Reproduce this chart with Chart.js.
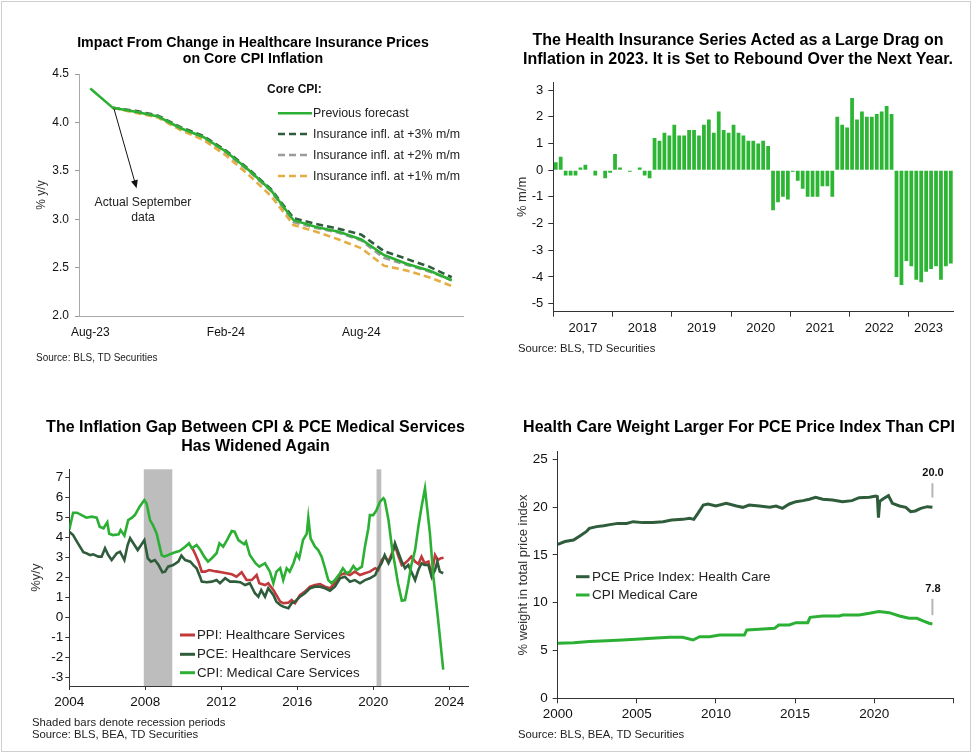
<!DOCTYPE html>
<html>
<head>
<meta charset="utf-8">
<script src="https://cdn.jsdelivr.net/npm/chart.js@4.4.0/dist/chart.umd.min.js"></script>
<style>
  body { margin: 0; background: #fff; font-family: "Liberation Sans", Arial, sans-serif; }
  #wrap { position: relative; width: 980px; height: 754px; overflow: hidden; background: #fff; }
  #frame { position: absolute; left: 1px; top: 1px; width: 968px; height: 749px; border: 1px solid #cfcfcf; }
  canvas { position: absolute; }
  .t { position: absolute; font-weight: bold; color: #000; text-align: center; white-space: nowrap; transform: translateX(-50%); }
  .src { position: absolute; color: #222; white-space: nowrap; }
  .lg { position: absolute; color: #222; white-space: nowrap; }
  svg { position: absolute; left: 0; top: 0; pointer-events: none; }
</style>
</head>
<body>
<div id="wrap">
  <div id="frame"></div>

  <canvas id="c1" width="490" height="377" style="left:0;top:0"></canvas>
  <canvas id="c2" width="490" height="377" style="left:490px;top:0"></canvas>
  <canvas id="c3" width="490" height="377" style="left:0;top:377px"></canvas>
  <canvas id="c4" width="490" height="377" style="left:490px;top:377px"></canvas>

  <div class="t" style="left:253px;top:33.5px;font-size:14.2px;line-height:16.3px">Impact From Change in Healthcare Insurance Prices<br>on Core CPI Inflation</div>
  <div class="t" style="left:738px;top:31.4px;font-size:16px;line-height:18.6px">The Health Insurance Series Acted as a Large Drag on<br>Inflation in 2023. It is Set to Rebound Over the Next Year.</div>
  <div class="t" style="left:255.5px;top:418px;font-size:16px;line-height:18.7px">The Inflation Gap Between CPI &amp; PCE Medical Services<br>Has Widened Again</div>
  <div class="t" style="left:739px;top:418px;font-size:16px;line-height:18.7px">Health Care Weight Larger For PCE Price Index Than CPI</div>

  <div class="src" style="left:36px;top:352px;font-size:10px">Source: BLS, TD Securities</div>
  <div class="src" style="left:518px;top:342px;font-size:11.3px">Source: BLS, TD Securities</div>
  <div class="src" style="left:32px;top:716px;font-size:11.3px;line-height:12.3px">Shaded bars denote recession periods<br>Source: BLS, BEA, TD Securities</div>
  <div class="src" style="left:518px;top:728px;font-size:11.3px">Source: BLS, BEA, TD Securities</div>

  <div class="lg" style="left:267px;top:82px;font-size:12px;font-weight:bold;color:#111">Core CPI:</div>
  <div class="lg" style="left:313px;top:106px;font-size:12.4px;line-height:14px">Previous forecast</div>
  <div class="lg" style="left:313px;top:127px;font-size:12.4px;line-height:14px">Insurance infl. at +3% m/m</div>
  <div class="lg" style="left:313px;top:148px;font-size:12.4px;line-height:14px">Insurance infl. at +2% m/m</div>
  <div class="lg" style="left:313px;top:169px;font-size:12.4px;line-height:14px">Insurance infl. at +1% m/m</div>
  <div class="lg" style="left:94px;top:195px;font-size:12.2px;line-height:15px;text-align:center;width:98px">Actual September<br>data</div>

  <div class="lg" style="left:197px;top:627px;font-size:13.3px;line-height:16px">PPI: Healthcare Services</div>
  <div class="lg" style="left:197px;top:646px;font-size:13.3px;line-height:16px">PCE: Healthcare Services</div>
  <div class="lg" style="left:197px;top:665px;font-size:13.3px;line-height:16px">CPI: Medical Care Services</div>

  <div class="lg" style="left:592px;top:569px;font-size:13.5px;line-height:16px">PCE Price Index: Health Care</div>
  <div class="lg" style="left:592px;top:587px;font-size:13.5px;line-height:16px">CPI Medical Care</div>

  <div class="lg" style="left:933px;top:466px;font-size:11px;font-weight:bold;color:#111;transform:translateX(-50%)">20.0</div>
  <div class="lg" style="left:933px;top:582px;font-size:11px;font-weight:bold;color:#111;transform:translateX(-50%)">7.8</div>

  <svg width="980" height="754">
    <line x1="278" y1="113.3" x2="312" y2="113.3" stroke="#2cb034" stroke-width="2.6"/>
    <line x1="278" y1="134" x2="310" y2="134" stroke="#2f5d3c" stroke-width="2.6" stroke-dasharray="7 4"/>
    <line x1="278" y1="155" x2="310" y2="155" stroke="#9b9b9b" stroke-width="2.6" stroke-dasharray="7 4"/>
    <line x1="278" y1="176" x2="310" y2="176" stroke="#e5ae45" stroke-width="2.6" stroke-dasharray="7 4"/>
    <line x1="180" y1="635" x2="195" y2="635" stroke="#c0393b" stroke-width="3"/>
    <line x1="180" y1="654.3" x2="195" y2="654.3" stroke="#2f5d3c" stroke-width="3"/>
    <line x1="180" y1="672.7" x2="195" y2="672.7" stroke="#2cb034" stroke-width="3"/>
    <line x1="576" y1="576.7" x2="589.5" y2="576.7" stroke="#2f5d3c" stroke-width="3"/>
    <line x1="576" y1="595" x2="589.5" y2="595" stroke="#2cb034" stroke-width="3"/>
  </svg>
</div>

<script>
// ---------- top left: core CPI forecast paths (% y/y)
const fcMonths = ['Aug-23', 'Sep-23', 'Oct-23', 'Nov-23', 'Dec-23', 'Jan-24', 'Feb-24', 'Mar-24', 'Apr-24',
  'May-24', 'Jun-24', 'Jul-24', 'Aug-24', 'Sep-24', 'Oct-24', 'Nov-24', 'Dec-24'];
const prevForecast = [4.35, 4.15, 4.11, 4.06, 3.94, 3.85, 3.70, 3.51, 3.30, 2.99, 2.92, 2.87, 2.79, 2.63, 2.54, 2.47, 2.37];
const insPlus3 = [null, 4.15, 4.12, 4.07, 3.95, 3.86, 3.71, 3.52, 3.31, 3.01, 2.95, 2.90, 2.84, 2.67, 2.59, 2.51, 2.40];
const insPlus2 = [null, 4.15, 4.11, 4.06, 3.94, 3.84, 3.69, 3.50, 3.29, 2.97, 2.91, 2.86, 2.78, 2.60, 2.53, 2.46, 2.37];
const insPlus1 = [null, 4.15, 4.10, 4.05, 3.92, 3.82, 3.66, 3.46, 3.24, 2.94, 2.87, 2.79, 2.70, 2.52, 2.47, 2.40, 2.31];
const fcTicks = [2.0, 2.5, 3.0, 3.5, 4.0, 4.5];
const arrowFrom = [1.05, 4.14];
const arrowTo = [2.05, 3.32];

// ---------- top right: health insurance CPI (% m/m), monthly
const insYears = ['2017', '2018', '2019', '2020', '2021', '2022', '2023'];
const ins2017 = [0.3, 0.5, -0.2, -0.2, -0.2, 0.1, 0.2, 0, -0.2, 0, -0.3, -0.1];
const ins2018 = [0.6, 0.1, 0, -0.06, 0, 0.1, -0.2, -0.3, 1.2, 1.1, 1.4, 1.3];
const ins2019 = [1.7, 1.3, 1.3, 1.5, 1.5, 1.3, 1.7, 1.9, 1.4, 2.2, 1.5, 1.4];
const ins2020 = [1.7, 1.4, 1.3, 1.1, 1.1, 1.0, 1.1, 0.9, -1.5, -1.2, -1.0, -1.1];
const ins2021 = [-0.06, -0.4, -0.7, -1.0, -1.0, -1.0, -0.6, -0.6, -1.0, 2.0, 1.7, 1.6];
const ins2022 = [2.7, 1.9, 2.2, 2.0, 2.0, 2.1, 2.2, 2.4, 2.1, -4.0, -4.3, -3.4];
const ins2023 = [-3.6, -4.1, -4.2, -3.8, -3.7, -3.6, -4.1, -3.6, -3.5];
const insTicks = [-5, -4, -3, -2, -1, 0, 1, 2, 3];

// ---------- bottom left: medical services inflation (% y/y)
const recessions = [[2007.92, 2009.42], [2020.17, 2020.42]];
const gapTicksX = [2004, 2008, 2012, 2016, 2020, 2024];
const gapTicksY = [-3, -2, -1, 0, 1, 2, 3, 4, 5, 6, 7];

const cpiMedDates = [2004.0, 2004.2, 2004.4, 2004.65, 2004.9, 2005.18, 2005.44, 2005.6, 2005.8, 2006.0, 2006.1, 2006.3,
  2006.6, 2006.7, 2006.9, 2007.1, 2007.3, 2007.45, 2007.7, 2007.95, 2008.07, 2008.25, 2008.4, 2008.6, 2008.86, 2009.0,
  2009.3, 2009.57, 2009.8, 2010.1, 2010.3, 2010.45, 2010.7, 2010.9, 2011.1, 2011.3, 2011.5, 2011.75, 2011.9, 2012.1,
  2012.3, 2012.55, 2012.7, 2012.9, 2013.2, 2013.3, 2013.5, 2013.8, 2014.0, 2014.3, 2014.56, 2014.74, 2014.9, 2015.1,
  2015.26, 2015.44, 2015.6, 2015.8, 2015.96, 2016.1, 2016.3, 2016.5, 2016.58, 2016.7, 2016.93, 2017.1, 2017.28, 2017.46,
  2017.63, 2017.8, 2017.98, 2018.25, 2018.4, 2018.6, 2018.77, 2018.95, 2019.12, 2019.4, 2019.56, 2019.74, 2019.82,
  2020.0, 2020.17, 2020.35, 2020.53, 2020.6, 2020.8, 2021.0, 2021.14, 2021.3, 2021.5, 2021.67, 2021.84, 2022.0, 2022.2,
  2022.37, 2022.54, 2022.72, 2022.98, 2023.16, 2023.4, 2023.68];
const cpiMedVals = [4.4, 5.25, 5.25, 5.13, 5.0, 5.05, 5.0, 4.55, 4.47, 4.77, 4.2, 4.13,
  4.17, 4.38, 4.1, 4.88, 5.0, 5.13, 5.55, 5.88, 5.7, 4.88, 4.63, 4.2, 3.13, 3.05,
  3.17, 3.27, 3.33, 3.55, 3.72, 3.47, 3.63, 3.38, 3.05, 2.8, 2.97, 3.22, 3.72, 3.55,
  3.88, 4.33, 4.3, 3.88, 3.67, 3.8, 3.13, 2.72, 2.55, 2.72, 2.3, 1.72, 2.3, 2.47,
  1.88, 2.47, 2.3, 2.72, 3.2, 2.97, 3.88, 4.2, 5.0, 3.97, 3.55, 3.38, 3.05, 2.47,
  1.88, 1.72, 1.88, 2.22, 2.47, 2.22, 2.3, 2.58, 2.38, 2.55, 3.55, 4.47, 5.13,
  5.13, 5.38, 5.8, 5.97, 5.88, 4.88, 3.38, 2.63, 1.72, 0.85, 0.88, 1.72, 2.63, 3.38,
  4.55, 5.55, 6.47, 4.22, 2.05, 0.0, -2.6];

const pceMedDates = [2004.0, 2004.2, 2004.4, 2004.56, 2004.74, 2004.9, 2005.1, 2005.26, 2005.53, 2005.7, 2005.88, 2006.05,
  2006.23, 2006.5, 2006.67, 2006.9, 2007.07, 2007.2, 2007.37, 2007.6, 2007.78, 2007.95, 2008.13, 2008.3, 2008.5, 2008.7,
  2008.9, 2009.04, 2009.2, 2009.47, 2009.74, 2009.9, 2010.1, 2010.37, 2010.53, 2010.7, 2010.88, 2010.97, 2011.23, 2011.5,
  2011.75, 2011.93, 2012.2, 2012.46, 2012.72, 2013.0, 2013.25, 2013.5, 2013.77, 2013.95, 2014.1, 2014.3, 2014.47, 2014.74,
  2014.9, 2015.1, 2015.26, 2015.53, 2015.7, 2015.88, 2016.14, 2016.4, 2016.67, 2016.93, 2017.2, 2017.46, 2017.72, 2017.98,
  2018.25, 2018.5, 2018.77, 2019.03, 2019.3, 2019.56, 2019.82, 2020.1, 2020.26, 2020.44, 2020.6, 2020.8, 2020.97, 2021.14,
  2021.3, 2021.5, 2021.67, 2021.84, 2022.0, 2022.2, 2022.37, 2022.54, 2022.7, 2022.9, 2023.07, 2023.25, 2023.37, 2023.5,
  2023.68];
const pceMedVals = [4.3, 4.13, 3.8, 3.55, 3.27, 3.22, 3.13, 3.17, 3.05, 3.05, 3.47, 3.13,
  2.88, 3.22, 3.3, 2.88, 3.63, 3.97, 3.72, 3.38, 3.63, 3.88, 2.97, 2.8, 2.88, 2.63,
  2.27, 2.3, 2.55, 2.63, 2.8, 3.1, 2.88, 2.8, 2.63, 2.47, 2.05, 1.8, 1.77, 1.8,
  1.88, 1.72, 1.97, 1.8, 1.8, 1.77, 1.63, 1.72, 1.22, 1.05, 1.38, 1.05, 1.47, 1.13,
  0.8, 0.63, 0.55, 0.47, 0.72, 0.8, 1.05, 1.22, 1.47, 1.55, 1.55, 1.47, 1.35, 1.55,
  1.97, 2.05, 1.8, 1.88, 1.72, 1.88, 1.97, 2.13, 2.47, 2.72, 3.13, 2.72, 3.05, 3.72,
  3.3, 2.8, 2.47, 2.63, 2.3, 1.88, 2.38, 2.72, 2.63, 2.63, 2.05, 2.38, 2.8, 2.3,
  2.22];

const ppiMedDates = [2010.48, 2010.65, 2010.8, 2010.97, 2011.15, 2011.36, 2011.6, 2011.8, 2012.0, 2012.28, 2012.55, 2012.8,
  2013.07, 2013.33, 2013.6, 2013.86, 2014.0, 2014.3, 2014.47, 2014.74, 2014.9, 2015.1, 2015.26, 2015.53, 2015.7, 2015.88,
  2016.14, 2016.4, 2016.67, 2016.93, 2017.2, 2017.46, 2017.72, 2017.98, 2018.25, 2018.5, 2018.77, 2019.03, 2019.3, 2019.56,
  2019.82, 2020.1, 2020.26, 2020.44, 2020.6, 2020.8, 2020.97, 2021.14, 2021.3, 2021.5, 2021.67, 2021.84, 2022.0, 2022.2,
  2022.37, 2022.54, 2022.7, 2022.9, 2023.07, 2023.25, 2023.4, 2023.55, 2023.7];
const ppiMedVals = [3.47, 3.13, 2.8, 2.3, 2.3, 2.38, 2.33, 2.3, 2.27, 2.22, 2.17, 2.05,
  2.27, 1.88, 1.88, 2.13, 1.72, 1.63, 1.72, 1.38, 1.13, 0.8, 0.72, 0.75, 0.88, 0.72,
  1.13, 1.3, 1.55, 1.63, 1.68, 1.55, 1.47, 1.72, 2.13, 2.22, 2.13, 2.3, 2.13, 2.22,
  2.3, 2.47, 2.38, 2.88, 3.05, 2.8, 3.2, 3.63, 3.13, 2.63, 2.72, 2.88, 3.05, 2.8,
  2.68, 3.05, 2.72, 2.8, 2.13, 3.13, 2.88, 2.97, 3.0];

// ---------- bottom right: health care weight in price index (%)
const weightTicksX = [2000, 2005, 2010, 2015, 2020, 2025];
const weightTicksY = [0, 5, 10, 15, 20, 25];
const pceWDates = [2000.0, 2000.46, 2001.0, 2001.4, 2001.8, 2002.0, 2002.46, 2002.9, 2003.3, 2003.8, 2004.35, 2004.77,
  2005.4, 2006.0, 2006.66, 2007.2, 2007.9, 2008.34, 2008.6, 2008.86, 2009.2, 2009.5, 2010.0, 2010.65, 2011.3, 2011.7,
  2012.1, 2012.75, 2013.4, 2013.8, 2014.2, 2014.64, 2015.06, 2015.5, 2015.9, 2016.3, 2016.75, 2017.37, 2018.0, 2018.6,
  2019.05, 2019.7, 2020.1, 2020.2, 2020.27, 2020.35, 2020.6, 2020.9, 2021.15, 2021.6, 2022.0, 2022.3, 2022.6, 2022.94,
  2023.36, 2023.68];
const pceWVals = [16.1, 16.4, 16.56, 16.98, 17.43, 17.78, 17.96, 18.06, 18.17, 18.3, 18.3, 18.48,
  18.38, 18.4, 18.48, 18.65, 18.72, 18.83, 18.72, 19.35, 20.22, 20.33, 20.12, 20.4, 20.12, 19.98,
  20.22, 20.12, 19.98, 20.12, 19.87, 20.33, 20.57, 20.68, 20.82, 21.03, 20.82, 20.75, 20.57, 20.68,
  20.99, 21.03, 21.16, 21.1, 18.9, 20.6, 20.9, 21.2, 20.4, 20.12, 19.98, 19.53, 19.6, 19.87,
  20.05, 19.98];
const cpiWDates = [2000.0, 2001.0, 2002.0, 2003.1, 2004.1, 2005.2, 2006.2, 2007.1, 2007.9, 2008.55, 2008.97, 2009.6,
  2010.23, 2011.07, 2011.8, 2011.95, 2012.75, 2013.7, 2013.97, 2014.64, 2015.06, 2015.8, 2015.95, 2016.75, 2017.8,
  2018.0, 2019.05, 2019.7, 2020.3, 2020.95, 2021.6, 2022.2, 2022.7, 2023.05, 2023.47, 2023.68];
const cpiWVals = [5.75, 5.82, 5.93, 6.03, 6.1, 6.2, 6.31, 6.38, 6.38, 6.1, 6.45, 6.45,
  6.62, 6.62, 6.62, 7.15, 7.22, 7.32, 7.67, 7.67, 7.91, 7.91, 8.47, 8.61, 8.61,
  8.72, 8.72, 8.89, 9.07, 8.96, 8.61, 8.37, 8.37, 8.12, 7.85, 7.78];
// little grey markers under the end-value labels
const endMarks = [[2023.68, 21.0, 22.5], [2023.68, 8.7, 10.4]];

// ---------- shared look
const GREEN = '#2cb034';
const DARK = '#2f5d3c';
const RED = '#c0393b';
const AXIS = '#333';
Chart.defaults.font.family = '"Liberation Sans", Arial, sans-serif';
Chart.defaults.color = '#111';
Chart.defaults.animation = false;

const pts = (xs, ys) => xs.map((x, i) => ({ x, y: ys[i] }));
const fixW = w => s => { s.width = w; };
const fixH = h => s => { s.height = h; };
const setTicks = list => s => { s.ticks = list.map(value => ({ value })); };

function yAxisTitle(text, size) {
  return { display: true, text, color: '#333', font: { size } };
}

const noLegend = { legend: { display: false }, tooltip: { enabled: false } };

// ---------- chart 1
const arrowPlugin = {
  id: 'arrow',
  afterDatasetsDraw(chart) {
    const { ctx, scales: { x, y } } = chart;
    const x0 = x.getPixelForValue(arrowFrom[0]), y0 = y.getPixelForValue(arrowFrom[1]);
    const x1 = x.getPixelForValue(arrowTo[0]), y1 = y.getPixelForValue(arrowTo[1]);
    const a = Math.atan2(y1 - y0, x1 - x0);
    ctx.save();
    ctx.strokeStyle = '#111';
    ctx.fillStyle = '#111';
    ctx.lineWidth = 1;
    ctx.beginPath();
    ctx.moveTo(x0, y0);
    ctx.lineTo(x1 - 6 * Math.cos(a), y1 - 6 * Math.sin(a));
    ctx.stroke();
    ctx.beginPath();
    ctx.moveTo(x1, y1);
    ctx.lineTo(x1 - 8 * Math.cos(a) + 3.5 * Math.sin(a), y1 - 8 * Math.sin(a) - 3.5 * Math.cos(a));
    ctx.lineTo(x1 - 8 * Math.cos(a) - 3.5 * Math.sin(a), y1 - 8 * Math.sin(a) + 3.5 * Math.cos(a));
    ctx.closePath();
    ctx.fill();
    ctx.restore();
  }
};

new Chart(document.getElementById('c1'), {
  type: 'line',
  data: {
    labels: fcMonths,
    datasets: [
      { data: prevForecast, borderColor: GREEN, borderWidth: 2.6 },
      { data: insPlus1, borderColor: '#e5ae45', borderWidth: 2.6, borderDash: [7, 4] },
      { data: insPlus2, borderColor: '#9b9b9b', borderWidth: 2.6, borderDash: [7, 4] },
      { data: insPlus3, borderColor: DARK, borderWidth: 2.6, borderDash: [7, 4] },
    ],
  },
  options: {
    responsive: false,
    layout: { padding: { left: 30.5, right: 27, top: 74, bottom: 31 } },
    elements: { point: { radius: 0 }, line: { tension: 0 } },
    plugins: noLegend,
    scales: {
      x: {
        offset: true,
        afterFit: fixH(30),
        grid: { display: false, drawTicks: false },
        border: { display: true, color: '#aaa' },
        ticks: {
          autoSkip: false, maxRotation: 0, padding: 9, font: { size: 12 },
          callback: (v, i) => (i % 6 === 0 ? fcMonths[i] : ''),
        },
      },
      y: {
        min: 2, max: 4.5,
        afterFit: fixW(48.5),
        afterBuildTicks: setTicks(fcTicks),
        grid: { drawOnChartArea: false, tickLength: 4, color: '#999' },
        border: { display: true, color: '#aaa' },
        ticks: { padding: 6, font: { size: 12 }, callback: v => v.toFixed(1) },
        title: yAxisTitle('% y/y', 12),
      },
    },
  },
  plugins: [arrowPlugin],
});

// ---------- chart 2
const insByYear = [ins2017, ins2018, ins2019, ins2020, ins2021, ins2022, ins2023];
const insLabels = insYears.flatMap((yr, k) => insByYear[k].map((_, m) => yr + '-' + (m + 1)));
const insMoM = [].concat(...insByYear);

new Chart(document.getElementById('c2'), {
  type: 'bar',
  data: {
    labels: insLabels,
    datasets: [{ data: insMoM, backgroundColor: '#2cb634', barPercentage: 0.76, categoryPercentage: 1 }],
  },
  options: {
    responsive: false,
    layout: { padding: { left: 20.2, right: 26.7, top: 82, bottom: 35.3 } },
    plugins: noLegend,
    scales: {
      x: {
        afterFit: fixH(30),
        grid: {
          drawOnChartArea: false, tickLength: 5,
          color: c => (c.index % 12 === 0 && c.index < insMoM.length ? AXIS : 'rgba(0,0,0,0)'),
        },
        border: { display: true, color: AXIS },
        ticks: {
          autoSkip: false, maxRotation: 0, padding: 4, labelOffset: -2.5, font: { size: 13 },
          callback: (v, i) => {
            const [yr, m] = insLabels[i].split('-');
            const n = insByYear[insYears.indexOf(yr)].length;
            return +m === (n === 12 ? 7 : 5) ? yr : '';
          },
        },
      },
      y: {
        min: -5.3, max: 3.3,
        afterFit: fixW(43.1),
        afterBuildTicks: setTicks(insTicks),
        grid: { drawOnChartArea: false, tickLength: 5, color: AXIS },
        border: { display: true, color: AXIS },
        ticks: { padding: 5, font: { size: 13 } },
        title: yAxisTitle('% m/m', 13),
      },
    },
  },
});

// ---------- chart 3
const recessionPlugin = {
  id: 'recessions',
  beforeDatasetsDraw(chart) {
    const { ctx, chartArea, scales: { x } } = chart;
    ctx.save();
    ctx.fillStyle = '#bdbdbd';
    recessions.forEach(([a, b]) => {
      const x0 = x.getPixelForValue(a), x1 = x.getPixelForValue(b);
      ctx.fillRect(x0, chartArea.top, x1 - x0, chartArea.bottom - chartArea.top);
    });
    ctx.restore();
  }
};

new Chart(document.getElementById('c3'), {
  type: 'line',
  data: {
    datasets: [
      { data: pts(cpiMedDates, cpiMedVals), borderColor: GREEN, borderWidth: 2.6 },
      { data: pts(pceMedDates, pceMedVals), borderColor: DARK, borderWidth: 2.6 },
      { data: pts(ppiMedDates, ppiMedVals), borderColor: RED, borderWidth: 2.6 },
    ],
  },
  options: {
    responsive: false,
    layout: { padding: { left: 24.2, right: 21.7, top: 92.3, bottom: 38 } },
    elements: { point: { radius: 0 }, line: { tension: 0 } },
    plugins: noLegend,
    scales: {
      x: {
        type: 'linear', min: 2004, max: 2025,
        afterFit: fixH(30),
        afterBuildTicks: setTicks(gapTicksX),
        grid: { drawOnChartArea: false, tickLength: 4, color: AXIS },
        border: { display: true, color: AXIS },
        ticks: { padding: 4, maxRotation: 0, font: { size: 13.5 }, callback: v => String(v) },
      },
      y: {
        min: -3.42, max: 7.42,
        afterFit: fixW(45.1),
        afterBuildTicks: setTicks(gapTicksY),
        grid: { drawOnChartArea: false, tickLength: 4, color: AXIS },
        border: { display: true, color: AXIS },
        ticks: { padding: 2, font: { size: 13.5 } },
        title: yAxisTitle('%y/y', 13),
      },
    },
  },
  plugins: [recessionPlugin],
});

// ---------- chart 4
const endMarkPlugin = {
  id: 'endMarks',
  afterDatasetsDraw(chart) {
    const { ctx, scales: { x, y } } = chart;
    ctx.save();
    ctx.strokeStyle = '#b5b5b5';
    ctx.lineWidth = 2;
    endMarks.forEach(([xv, y0, y1]) => {
      const px = x.getPixelForValue(xv);
      ctx.beginPath();
      ctx.moveTo(px, y.getPixelForValue(y0));
      ctx.lineTo(px, y.getPixelForValue(y1));
      ctx.stroke();
    });
    ctx.restore();
  }
};

new Chart(document.getElementById('c4'), {
  type: 'line',
  data: {
    datasets: [
      { data: pts(pceWDates, pceWVals), borderColor: DARK, borderWidth: 3 },
      { data: pts(cpiWDates, cpiWVals), borderColor: GREEN, borderWidth: 3 },
    ],
  },
  options: {
    responsive: false,
    layout: { padding: { left: 21.2, right: 26.7, top: 74.7, bottom: 25.7 } },
    elements: { point: { radius: 0 }, line: { tension: 0 } },
    plugins: noLegend,
    scales: {
      x: {
        type: 'linear', min: 2000, max: 2025,
        afterFit: fixH(30),
        afterBuildTicks: setTicks(weightTicksX),
        grid: { drawOnChartArea: false, tickLength: 5, color: AXIS },
        border: { display: true, color: AXIS },
        ticks: { padding: 3, maxRotation: 0, font: { size: 13.5 }, callback: v => (v === 2025 ? '' : String(v)) },
      },
      y: {
        min: 0, max: 25.8,
        afterFit: fixW(46.5),
        afterBuildTicks: setTicks(weightTicksY),
        grid: { drawOnChartArea: false, tickLength: 5, color: AXIS },
        border: { display: true, color: AXIS },
        ticks: { padding: 5, font: { size: 13.5 } },
        title: yAxisTitle('% weight in total price index', 13),
      },
    },
  },
  plugins: [endMarkPlugin],
});
</script>
</body>
</html>
